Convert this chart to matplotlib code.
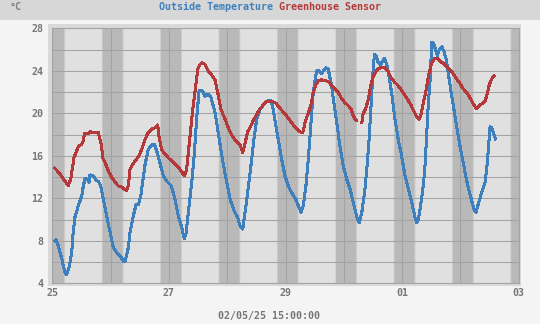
import numpy as np
import pandas as pd
import matplotlib
matplotlib.use("Agg")
import matplotlib.pyplot as plt
import matplotlib.dates as mdates
from matplotlib.colors import LinearSegmentedColormap
from matplotlib.patches import Rectangle
from matplotlib.ticker import MultipleLocator, FixedLocator

# ---- data: hours since 25 Apr 2025 00:00 and temperatures (°C) ----
START = pd.Timestamp("2025-04-25 00:00")

outside_hours = [
    0.7, 1.5, 2.5, 3.9, 5.2, 5.9, 7.0, 8.0, 8.6, 9.3, 10.7, 12.1, 12.8, 13.5, 14.4, 15.1, 15.5, 16.9, 18.0, 18.9, 19.9, 21.0, 22.4, 23.8,
    25.1, 26.5, 27.9, 29.2, 29.9, 31.3, 32.0, 33.3, 34.5, 35.4, 36.4, 37.2, 38.2, 39.5, 40.9, 42.0, 43.0, 44.3, 45.7, 47.1,
    48.9, 50.2, 51.9, 53.3, 54.3, 55.0, 56.0, 57.4, 58.5, 59.4, 60.4, 61.8, 62.9, 64.2, 65.3, 67.0, 68.3, 70.0, 71.8,
    73.2, 74.9, 76.3, 77.3, 78.4, 78.9, 80.0, 81.1, 82.1, 83.0, 84.1, 85.5, 87.2, 88.5, 89.9, 90.7, 91.7, 93.0, 94.4,
    95.8, 97.2, 98.6, 99.9, 101.3, 102.4, 103.3, 104.4, 105.4, 106.4, 107.4, 108.8, 109.9, 110.7, 111.6, 112.7, 113.6, 115.0, 116.4, 117.5, 118.4,
    119.8, 121.2, 122.6, 123.9, 125.3, 126.3, 127.4, 128.7, 129.7, 130.5, 131.2, 131.9, 132.6, 133.3, 134.2, 135.2, 135.9, 136.7, 137.7, 138.6, 139.7, 141.1, 142.4,
    143.8, 145.2, 146.6, 148.0, 149.3, 150.0, 150.7, 151.8, 152.7, 153.4, 154.1, 154.8, 155.5, 156.2, 157.1, 157.9, 158.5, 159.3, 160.4, 161.2, 162.1, 163.0, 164.0, 165.1,
    166.2, 167.1, 168.1, 169.2, 170.3, 171.4, 172.5, 173.6, 174.4, 175.3, 176.7, 178.1, 178.8, 179.5, 180.2, 180.9, 181.5, 182.6,
]
outside_temp = [
    7.9, 8.1, 7.5, 6.3, 5.0, 4.85, 5.6, 6.9, 8.8, 10.2, 11.3, 12.2, 13.2, 13.85, 13.8, 13.5, 14.2, 14.1, 13.7, 13.6, 13.2, 11.9, 10.3, 8.8,
    7.4, 6.9, 6.6, 6.1, 6.0, 7.35, 8.8, 10.3, 11.4, 11.4, 12.2, 13.5, 15.2, 16.6, 17.0, 17.1, 16.45, 15.35, 14.1, 13.6,
    13.2, 12.2, 10.3, 9.25, 8.2, 8.6, 10.65, 13.5, 16.3, 19.4, 22.1, 22.1, 21.6, 21.8, 21.5, 20.05, 18.2, 15.7, 13.5,
    11.9, 10.8, 10.2, 9.4, 9.1, 10.0, 11.75, 13.8, 15.7, 17.55, 19.4, 20.4, 20.85, 21.15, 21.25, 20.7, 19.3, 17.55, 15.7,
    14.1, 13.15, 12.5, 12.05, 11.3, 10.7, 11.3, 13.15, 15.7, 18.8, 21.95, 24.0, 24.0, 23.7, 24.0, 24.3, 24.15, 22.55, 20.2, 18.5, 16.9,
    15.0, 13.8, 12.85, 11.6, 10.3, 9.7, 10.65, 12.85, 15.35, 17.85, 20.7, 23.5, 25.55, 25.4, 24.75, 24.6, 24.9, 25.15, 24.6, 23.5, 21.9, 19.4, 17.55,
    16.0, 14.1, 12.85, 11.6, 10.2, 9.7, 10.0, 11.6, 13.15, 15.0, 17.85, 21.0, 23.0, 26.7, 26.5, 25.85, 25.4, 26.0, 26.25, 25.85, 25.1, 23.8, 22.25, 20.7,
    19.1, 17.85, 16.6, 15.35, 13.95, 12.85, 11.9, 10.95, 10.7, 11.4, 12.5, 13.45, 14.7, 16.6, 18.75, 18.65, 18.2, 17.5,
]

greenhouse_hours = [
    0.7, 1.8, 3.2, 4.5, 5.6, 6.6, 7.6, 8.4, 8.9, 9.8, 10.7, 12.1, 12.8, 13.2, 14.8, 15.5, 17.6, 18.9, 19.6, 20.3, 20.7, 21.7, 23.1,
    24.5, 25.8, 27.2, 28.6, 29.5, 30.6, 31.3, 32.0, 33.1, 34.5, 35.8, 36.8, 38.2, 39.5, 40.9, 42.3, 43.4, 43.9, 45.0, 46.4, 47.8,
    49.2, 50.5, 51.9, 53.3, 54.3, 55.3, 56.0, 57.1, 58.0, 59.0, 59.9, 60.8, 61.8, 62.9, 64.2, 65.6, 67.0, 68.1, 69.4, 71.1,
    72.7, 74.1, 75.5, 77.3, 78.4, 79.3, 80.3, 81.7, 83.0, 84.4, 85.8, 87.2, 88.5, 90.3, 92.1, 93.7, 95.1,
    96.5, 97.9, 99.2, 100.6, 102.0, 103.1, 104.0, 105.4, 106.4, 107.4, 108.6, 109.5, 110.9, 112.7, 114.0, 115.4, 116.4, 117.7, 119.1,
    120.5, 121.9, 123.0, 123.9, 124.9, 125.7, 126.5, 127.4, 128.0, 129.0, 130.1, 130.8, 131.7, 132.8, 133.9, 135.3, 136.9, 138.1, 139.4,
    140.8, 142.2, 143.5, 144.9, 146.3, 147.7, 149.0, 150.0, 151.0, 151.8, 152.7, 153.7, 154.8, 155.5, 156.2, 157.5, 158.5, 159.6, 161.0, 162.4,
    163.7, 165.1, 166.5, 167.8, 169.2, 170.6, 172.0, 173.3, 174.7, 175.8, 177.2, 178.1, 178.8, 179.9, 180.9, 182.2,
]
greenhouse_temp = [
    14.9, 14.65, 14.25, 13.85, 13.5, 13.2, 13.8, 15.0, 15.8, 16.35, 16.85, 17.1, 17.4, 18.1, 18.1, 18.25, 18.2, 18.2, 17.55, 16.9, 15.8, 15.35, 14.55,
    13.95, 13.55, 13.15, 13.05, 12.9, 12.7, 13.2, 14.7, 15.2, 15.65, 16.05, 16.6, 17.55, 18.2, 18.5, 18.65, 18.9, 17.85, 16.6, 16.15, 15.8,
    15.5, 15.2, 14.9, 14.5, 14.1, 14.7, 16.3, 18.8, 20.7, 22.55, 24.15, 24.6, 24.75, 24.6, 24.0, 23.6, 23.15, 21.95, 20.4, 19.45,
    18.5, 17.85, 17.4, 17.0, 16.3, 17.1, 18.2, 18.8, 19.45, 20.0, 20.5, 20.9, 21.15, 21.15, 20.95, 20.5, 20.1,
    19.75, 19.3, 18.9, 18.55, 18.25, 18.15, 19.1, 20.05, 20.7, 21.95, 22.75, 23.05, 23.15, 23.05, 22.9, 22.5, 22.3, 21.95, 21.4,
    21.0, 20.7, 20.4, 19.75, 19.35, 19.3, np.nan, 19.05, 20.0, 20.45, 21.3, 22.25, 23.2, 23.8, 24.15, 24.3, 24.3, 24.0, 23.35,
    22.95, 22.65, 22.25, 21.8, 21.3, 20.75, 20.1, 19.7, 19.45, 19.9, 20.95, 21.95, 23.5, 24.15, 24.75, 25.2, 25.15, 24.9, 24.7, 24.4,
    24.1, 23.7, 23.2, 22.8, 22.3, 21.95, 21.45, 20.85, 20.45, 20.75, 20.95, 21.15, 21.6, 22.7, 23.25, 23.6,
]

series_names = ["Outside Temperature", "Greenhouse Sensor"]
x_tick_labels = ["25", "27", "29", "01", "03"]
y_tick_values = [4, 8, 12, 16, 20, 24, 28]
timestamp_label = "02/05/25 15:00:00"
unit_label = "°C"

# ---- style ----
W, H = 540, 324
BLUE = "#3d80bd"
RED = "#b5383b"
TEXT_GRAY = "#777777"
GRID = "#a3a3a3"
DAY = "#e0e0e0"
NIGHT = "#b9b9b9"
FONT = dict(family="DejaVu Sans Mono", weight="bold", size=7.2)
LINE_W = 1.44  # 2 px at 100 dpi

fig = plt.figure(figsize=(W / 100, H / 100), dpi=100, facecolor="#f4f4f4")

# header band and plot frame (behind the axes)
fig.patches.append(Rectangle((0, 1 - 20 / H), 1, 20 / H, transform=fig.transFigure,
                             facecolor="#d7d7d7", edgecolor="none", zorder=-2))
fig.patches.append(Rectangle((48 / W, 1 - 286 / H), (521 - 48) / W, (286 - 24) / H,
                             transform=fig.transFigure, facecolor="#d9d9d9",
                             edgecolor="none", zorder=-2))

ax = fig.add_axes([52.3 / W, 1 - 283.3 / H, 466.4 / W, 255 / H])
ax.set_zorder(2)

t_out = START + pd.to_timedelta(outside_hours, unit="h")
t_gh = START + pd.to_timedelta(greenhouse_hours, unit="h")

ax.plot(t_out, outside_temp, color=BLUE, lw=LINE_W, antialiased=False, zorder=3,
        solid_joinstyle="round", solid_capstyle="butt")
ax.plot(t_gh, greenhouse_temp, color=RED, lw=LINE_W, antialiased=False, zorder=3,
        solid_joinstyle="round", solid_capstyle="butt")

x0 = START
x1 = START + pd.Timedelta(days=8)
n0, n1 = mdates.date2num(x0), mdates.date2num(x1)

# day / night shading with twilight ramps
minutes = np.arange(0, 8 * 24 * 60)
hod = (minutes / 60.0) % 24
light = np.clip((hod - 4.8) / 0.8, 0, 1) * np.clip((21.0 - hod) / 0.7, 0, 1)
cmap = LinearSegmentedColormap.from_list("daynight", [NIGHT, DAY])
ax.imshow(light[np.newaxis, :], cmap=cmap, vmin=0, vmax=1, aspect="auto",
          extent=[n0, n1, 4, 28], interpolation="nearest", zorder=0)

ax.set_xlim(n0, n1)
ax.set_ylim(4, 28)

# ticks and grid
major_days = [mdates.date2num(START + pd.Timedelta(days=2 * i)) for i in range(len(x_tick_labels))]
ax.xaxis.set_major_locator(FixedLocator(major_days))
ax.xaxis.set_minor_locator(MultipleLocator(1))
ax.set_xticklabels(x_tick_labels)
ax.set_yticks(y_tick_values)
ax.set_yticklabels([str(v) for v in y_tick_values])
ax.yaxis.set_minor_locator(MultipleLocator(2))
ax.set_axisbelow(True)
ax.grid(True, which="both", color=GRID, lw=0.75)
ax.tick_params(which="both", length=0)
ax.tick_params(axis="y", pad=6.5, labelcolor=TEXT_GRAY)
ax.tick_params(axis="x", pad=3.5, labelcolor=TEXT_GRAY)
for lab in ax.get_xticklabels() + ax.get_yticklabels():
    lab.set_fontfamily(FONT["family"])
    lab.set_fontweight(FONT["weight"])
    lab.set_fontsize(FONT["size"])
for sp in ax.spines.values():
    sp.set_color(GRID)
    sp.set_linewidth(0.75)
    sp.set_zorder(4)

# header texts
fig.text(159 / W, 1 - 6.5 / H, series_names[0], color=BLUE, ha="left", va="center", **FONT)
fig.text(279 / W, 1 - 6.5 / H, series_names[1], color=RED, ha="left", va="center", **FONT)
fig.text(9.5 / W, 1 - 6.5 / H, unit_label, color="#808080", ha="left", va="center", **FONT)
fig.text(269.5 / W, 1 - 315.7 / H, timestamp_label, color=TEXT_GRAY, ha="center", va="center", **FONT)

fig.savefig("out.png", dpi=100, facecolor=fig.get_facecolor())
